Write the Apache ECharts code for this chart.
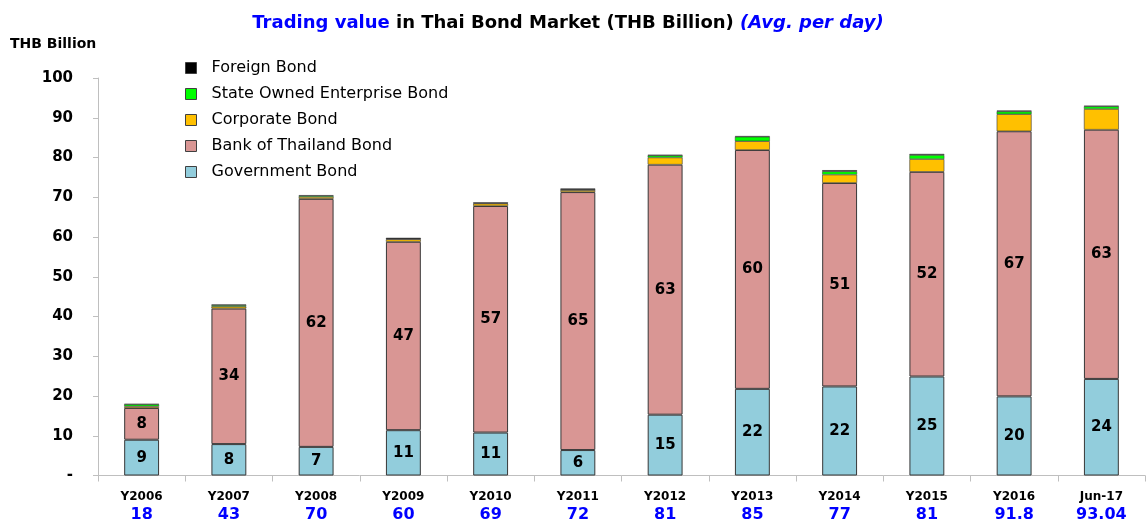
<!DOCTYPE html>
<html>
<head>
<meta charset="utf-8">
<script src="https://cdn.jsdelivr.net/npm/echarts@6/dist/echarts.min.js"></script>
<style>
html,body{margin:0;padding:0;background:#fff;}
#c{width:1146px;height:523px;}
</style>
</head>
<body>
<div id="c"></div>
<script>
const categories = ['Y2006','Y2007','Y2008','Y2009','Y2010','Y2011','Y2012','Y2013','Y2014','Y2015','Y2016','Jun-17'];
const totalLabels = ['18','43','70','60','69','72','81','85','77','81','91.8','93.04'];
const government = [9.0, 7.9, 7.2, 11.4, 10.8, 6.4, 15.3, 21.8, 22.4, 24.9, 19.9, 24.3];
const bankOfThailand = [8.0, 34.1, 62.4, 47.4, 57.0, 64.9, 62.9, 60.1, 51.2, 51.5, 66.7, 62.7];
const corporate = [0.4, 0.5, 0.5, 0.6, 0.6, 0.5, 1.8, 2.2, 2.1, 3.2, 4.3, 5.2];
const stateOwned = [0.5, 0.3, 0.3, 0.1, 0.1, 0.1, 0.5, 1.1, 0.8, 1.0, 0.65, 0.65];
const foreign = [0.1, 0.2, 0.1, 0.3, 0.2, 0.3, 0.2, 0.2, 0.3, 0.3, 0.25, 0.2];
const yTicks = {min: 0, max: 100, interval: 10};

const FONT = 'DejaVu Sans';
const chart = echarts.init(document.getElementById('c'), null, {renderer: 'canvas'});

function bar(name, data, color, withLabel, bw) {
  return {
    name: name,
    type: 'bar',
    stack: 'total',
    barWidth: '40%',
    data: data,
    itemStyle: {color: color, borderColor: '#383838', borderWidth: bw},
    label: withLabel ? {
      show: true,
      position: 'inside',
      color: '#000',
      fontFamily: FONT,
      fontWeight: 'bold',
      fontSize: 15,
      formatter: p => Math.round(p.value)
    } : {show: false},
    emphasis: {disabled: true}
  };
}

chart.setOption({
  animation: false,
  textStyle: {fontFamily: FONT},
  title: {
    left: 563,
    top: 9,
    textAlign: 'center',
    text: '{b|Trading value}{k| in Thai Bond Market (THB Billion) }{i|(Avg. per day)}',
    textStyle: {
      rich: {
        b: {color: '#0000FF', fontSize: 18, fontFamily: FONT},
        k: {color: '#000', fontSize: 18, fontFamily: FONT},
        i: {color: '#0000FF', fontSize: 18, fontFamily: FONT, fontStyle: 'italic'}
      }
    }
  },
  graphic: [{
    type: 'text',
    left: 10,
    top: 37,
    style: {text: 'THB Billion', fontFamily: FONT, fontSize: 14, fontWeight: 'bold', fill: '#000'}
  }],
  legend: {
    orient: 'vertical',
    left: 180,
    top: 55,
    itemGap: 10,
    itemWidth: 11,
    itemHeight: 11,
    icon: 'rect',
    data: ['Foreign Bond','State Owned Enterprise Bond','Corporate Bond','Bank of Thailand Bond','Government Bond'],
    textStyle: {fontFamily: FONT, fontSize: 16, color: '#000', padding: [0,0,0,10]},
    itemStyle: {borderColor: '#404040', borderWidth: 1}
  },
  grid: {left: 98, right: 1, top: 78, bottom: 46},
  xAxis: {
    type: 'category',
    data: categories,
    axisLine: {lineStyle: {color: '#BFBFBF'}},
    axisTick: {show: true, length: 6, lineStyle: {color: '#BFBFBF'}},
    axisLabel: {
      margin: 13,
      interval: 0,
      formatter: (v, i) => '{a|' + v + '}\n{b|' + totalLabels[i] + '}',
      rich: {
        a: {fontFamily: FONT, fontSize: 12, fontWeight: 'bold', color: '#000', lineHeight: 17},
        b: {fontFamily: FONT, fontSize: 16, fontWeight: 'bold', color: '#0000FF', lineHeight: 19}
      }
    }
  },
  yAxis: {
    type: 'value',
    min: yTicks.min,
    max: yTicks.max,
    interval: yTicks.interval,
    splitLine: {show: false},
    axisLine: {show: true, lineStyle: {color: '#BFBFBF'}},
    axisTick: {show: true, length: 5, lineStyle: {color: '#BFBFBF'}},
    axisLabel: {
      margin: 25,
      fontFamily: FONT,
      fontSize: 15,
      fontWeight: 'bold',
      color: '#000',
      formatter: v => v === 0 ? '-' : String(v)
    }
  },
  series: [
    bar('Government Bond', government, '#92CDDC', true, 1),
    bar('Bank of Thailand Bond', bankOfThailand, '#D99694', true, 1),
    bar('Corporate Bond', corporate, '#FFC000', false, 0.6),
    bar('State Owned Enterprise Bond', stateOwned, '#00FF00', false, 0.5),
    bar('Foreign Bond', foreign, '#000000', false, 0.5)
  ]
});
</script>
</body>
</html>
